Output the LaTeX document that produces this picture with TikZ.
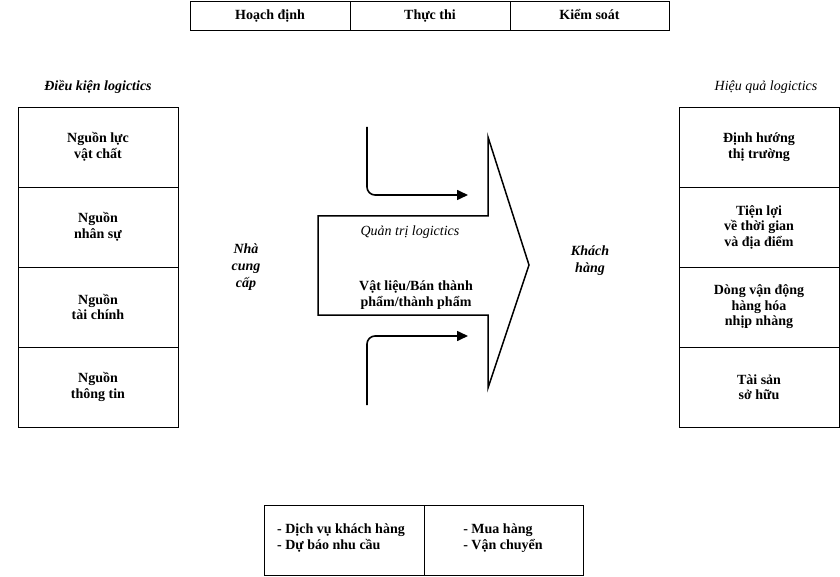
\documentclass[tikz,border=0pt]{standalone}
\usepackage{fontspec}
\setmainfont{Liberation Serif}
\usetikzlibrary{arrows.meta}
\begin{document}
\begin{tikzpicture}[x=1pt,y=-1pt,
  cell/.style={draw, line width=0.8pt, inner sep=0pt, font=\bfseries\fontsize{14}{15.5}\selectfont, align=center},
  hcell/.style={cell, minimum height=29pt, text height=11pt, text depth=2pt},
  lbl/.style={font=\itshape\fontsize{14}{17}\selectfont, align=center, inner sep=0pt},
  blbl/.style={font=\bfseries\itshape\fontsize{14}{17}\selectfont, align=center, inner sep=0pt},
  btxt/.style={font=\bfseries\fontsize{14}{16.5}\selectfont, align=center, inner sep=0pt},
  flow/.style={line width=1.6pt, rounded corners=8pt, -{Triangle[length=11pt,width=10pt]}},
  bigarrow/.style={line width=1.5pt, line join=miter}]
\useasboundingbox (0,0) rectangle (840,577);
% top table
\node[hcell, minimum width=160pt] (hd) at (270,15.5) {Hoạch định};
\node[hcell, minimum width=160pt] (tt) at (430,15.5) {Thực thi};
\node[hcell, minimum width=159pt] (ks) at (589.5,15.5) {Kiểm soát};
% titles
\node[blbl] (dk) at (98,87) {Điều kiện logictics};
\node[lbl] (hq) at (766,87) {Hiệu quả logictics};
% left column
\node[cell, minimum width=160pt, minimum height=80pt] (l1) at (98,147) {Nguồn lực\\vật chất};
\node[cell, minimum width=160pt, minimum height=80pt] (l2) at (98,227) {Nguồn\\nhân sự};
\node[cell, minimum width=160pt, minimum height=80pt] (l3) at (98,307) {Nguồn\\tài chính};
\node[cell, minimum width=160pt, minimum height=80pt] (l4) at (98,387) {Nguồn\\thông tin};
% right column
\node[cell, minimum width=160pt, minimum height=80pt] (r1) at (759,147) {Định hướng\\thị trường};
\node[cell, minimum width=160pt, minimum height=80pt] (r2) at (759,227) {Tiện lợi\\về thời gian\\và địa điểm};
\node[cell, minimum width=160pt, minimum height=80pt] (r3) at (759,307) {Dòng vận động\\hàng hóa\\nhịp nhàng};
\node[cell, minimum width=160pt, minimum height=80pt] (r4) at (759,387) {Tài sản\\sở hữu};
% central arrow
\draw[bigarrow] (318,216) -- (488,216) -- (488,137) -- (529,265) -- (488,388) -- (488,315) -- (318,315) -- cycle;
\coordinate (t0) at (367,127);
\coordinate (t1) at (468,195);
\draw[flow] (t0) |- (t1);
\coordinate (b0) at (367,405);
\coordinate (b1) at (468,336);
\draw[flow] (b0) |- (b1);
\node[lbl] (qt) at (410,232) {Quản trị logictics};
\node[btxt] (vl) at (416,295) {Vật liệu/Bán thành\\phẩm/thành phẩm};
\node[blbl] (ncc) at (246,267) {Nhà\\cung\\cấp};
\node[blbl] (kh) at (590,261) {Khách\\hàng};
% bottom table
\node[cell, minimum width=160pt, minimum height=70pt] (bl) at (344,540) {};
\node[cell, minimum width=159pt, minimum height=70pt] (br) at (503.5,540) {};
\node[btxt, align=left] (blt) at (341,538) {- Dịch vụ khách hàng\\- Dự báo nhu cầu};
\node[btxt, align=left] (brt) at (503,538) {- Mua hàng\\- Vận chuyển};
\end{tikzpicture}
\end{document}
